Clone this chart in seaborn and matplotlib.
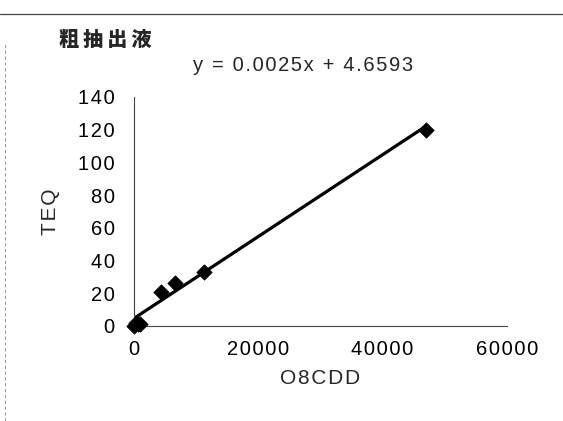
import numpy as np
import matplotlib
matplotlib.use('Agg')
import matplotlib.pyplot as plt
import seaborn as sns

sns.set_theme(style="white")
plt.rcParams['font.family'] = ['Liberation Sans', 'DejaVu Sans', 'Noto Sans CJK JP']

# data
o8cdd = [0, 300, 600, 900, 4300, 6600, 11200, 47000]
teq = [0, 2, 1, 1.5, 21, 26, 33, 120]
slope = 0.0025
intercept = 4.6593
fit_x = [0, 47000]
fit_y = [slope * v + intercept for v in fit_x]
x_ticks = [0, 20000, 40000, 60000]
y_ticks = list(range(0, 141, 20))


def spaced(s):
    # the scanned text is slightly letter-spaced
    return "\u200a".join(s)


fig = plt.figure(figsize=(5.63, 4.21), dpi=100)
ax = fig.add_axes([0.238, 0.2257, 0.662, 0.5439])

sns.lineplot(x=fit_x, y=fit_y, ax=ax, color="black", linewidth=2.3)
sns.scatterplot(x=o8cdd, y=teq, ax=ax, marker="D", s=60, color="black",
                edgecolor="black", clip_on=False, zorder=5)

ax.set_xlim(0, 60000)
ax.set_ylim(0, 140)
ax.set_xticks(x_ticks)
ax.set_xticklabels([spaced(str(t)) for t in x_ticks])
ax.set_yticks(y_ticks)
ax.set_yticklabels([spaced(str(t)) for t in y_ticks])
for s in ["top", "right"]:
    ax.spines[s].set_visible(False)
for s in ["left", "bottom"]:
    ax.spines[s].set_color("#444444")
    ax.spines[s].set_linewidth(0.8)
ax.tick_params(axis="both", direction="in", length=4, width=0.8, color="#444444",
               labelsize=14.5, labelcolor="black")
ax.tick_params(axis="y", pad=14)
ax.tick_params(axis="x", pad=10)
ax.set_xlabel(spaced("O8CDD"), fontsize=15, labelpad=7)
ax.set_ylabel(spaced("TEQ"), fontsize=15, labelpad=13)

fig.text(0.105, 0.905, "\u2009".join("粗抽出液"), fontsize=14.5, fontweight="heavy",
         family=['Noto Sans CJK JP', 'DejaVu Sans'], va="center")
fig.text(0.343, 0.845, spaced("y = 0.0025x + 4.6593"), fontsize=14.5, va="center")

# scanned page border
fig.add_artist(plt.Line2D([0.0, 1.0], [0.967, 0.967], color="#444444", linewidth=0.9))
fig.add_artist(plt.Line2D([0.009, 0.009], [0.0, 0.9], color="#888888", linewidth=0.6,
                          linestyle=(0, (4, 3))))

fig.savefig("out.png", dpi=100)
